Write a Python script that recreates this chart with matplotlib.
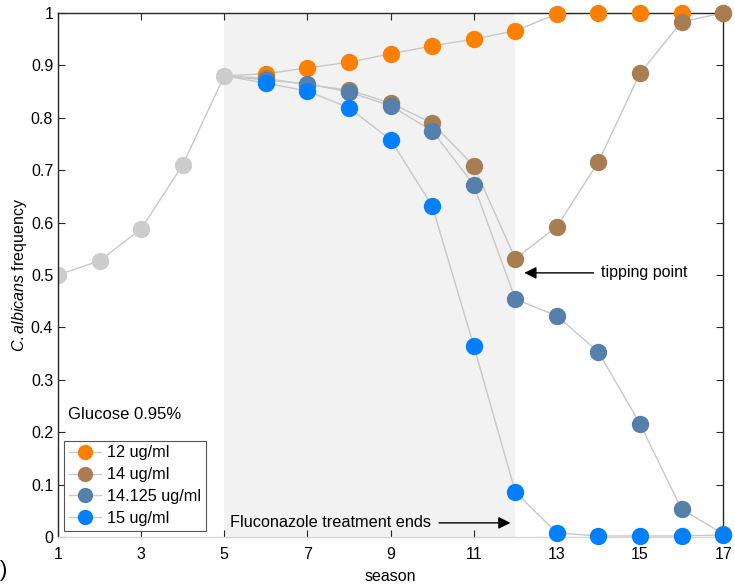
import numpy as np
import matplotlib
matplotlib.use("Agg")
from matplotlib import pyplot as plt
from matplotlib.lines import Line2D

plt.rcParams['font.family'] = ['Liberation Sans', 'DejaVu Sans']
plt.rcParams['mathtext.fontset'] = 'custom'
plt.rcParams['mathtext.it'] = 'Liberation Sans:italic'
plt.rcParams['mathtext.rm'] = 'Liberation Sans'

# seasons before treatment (shared by all doses)
pre_seasons = [1, 2, 3, 4, 5]
pre_freq = [0.500, 0.527, 0.588, 0.710, 0.880]

# seasons 5..17 for each fluconazole dose
seasons = [5, 6, 7, 8, 9, 10, 11, 12, 13, 14, 15, 16, 17]
freq_12 = [0.880, 0.884, 0.895, 0.906, 0.922, 0.937, 0.950, 0.966, 0.998, 1.0, 1.0, 1.0, 1.0]
freq_14 = [0.880, 0.875, 0.863, 0.853, 0.828, 0.790, 0.708, 0.531, 0.592, 0.716, 0.885, 0.983, 1.0]
freq_14125 = [0.880, 0.872, 0.865, 0.849, 0.823, 0.775, 0.672, 0.454, 0.422, 0.353, 0.216, 0.053, 0.006]
freq_15 = [0.880, 0.866, 0.851, 0.819, 0.758, 0.632, 0.365, 0.086, 0.008, 0.002, 0.002, 0.002, 0.004]

labels = ['12 ug/ml', '14 ug/ml', '14.125 ug/ml', '15 ug/ml']
colors = ['#ff8000', '#a87d52', '#5580ab', '#0080ff']
series = [freq_12, freq_14, freq_14125, freq_15]

line_col = '#c8c8c8'
ms = 12.5

fig = plt.figure(figsize=(7.35, 5.88), dpi=100)
ax = fig.add_axes([0.0789, 0.0867, 0.905, 0.8913])

# treatment window
ax.axvspan(5, 12, color='#f2f2f2', zorder=0, lw=0)

for vals in series:
    ax.plot(seasons, vals, '-', color=line_col, lw=1, zorder=1)
ax.plot(pre_seasons, pre_freq, '-', color=line_col, lw=1, zorder=1)
ax.plot(pre_seasons, pre_freq, 'o', color='#cccccc', ms=ms, mec='none', zorder=2)

for vals, c in zip(series, colors):
    ax.plot(seasons[1:], vals[1:], 'o', color=c, ms=ms, mec='none', zorder=3, clip_on=False)

ax.set_xlim(1, 17)
ax.set_ylim(0, 1)
ax.set_xticks(np.arange(1, 18, 2))
ax.set_yticks(np.arange(0, 1.01, 0.1))
ax.set_yticklabels(['0', '0.1', '0.2', '0.3', '0.4', '0.5', '0.6', '0.7', '0.8', '0.9', '1'])
ax.tick_params(direction='in', length=5, labelsize=11.5, top=True, right=True, color='#262626')
ax.tick_params(axis='x', pad=7)
for s in ax.spines.values():
    s.set_color('#262626')
    s.set_linewidth(1)
ax.spines['bottom'].set_color('#d8d8d8')

ax.set_xlabel('season', fontsize=11.5, labelpad=5)
ax.set_ylabel(r'$\it{C.albicans}$ frequency', fontsize=11.5, labelpad=1)

ax.text(1.24, 0.233, 'Glucose 0.95%', fontsize=12, va='center')

ax.annotate('', xy=(11.95, 0.027), xytext=(10.1, 0.027),
            arrowprops=dict(arrowstyle='-|>', color='black', lw=1, mutation_scale=18))
ax.text(5.13, 0.027, 'Fluconazole treatment ends', fontsize=11.7, va='center')

ax.annotate('', xy=(12.15, 0.504), xytext=(13.95, 0.504),
            arrowprops=dict(arrowstyle='-|>', color='black', lw=1, mutation_scale=18))
ax.text(14.05, 0.504, 'tipping point', fontsize=11.5, va='center')

handles = [Line2D([], [], color=line_col, lw=1, marker='o', ms=11, mfc=c, mec='none')
           for c in colors]
leg = ax.legend(handles, labels, loc='lower left', bbox_to_anchor=(0.009, 0.012),
                fontsize=11.7, fancybox=False, edgecolor='#555555', framealpha=1,
                handlelength=2.0, handletextpad=0.35, borderpad=0.3, labelspacing=0.42,
                borderaxespad=0)
leg.get_frame().set_linewidth(0.8)

fig.text(0.0, 0.03, ')', fontsize=16, va='center')

fig.savefig('out.png', dpi=100)
